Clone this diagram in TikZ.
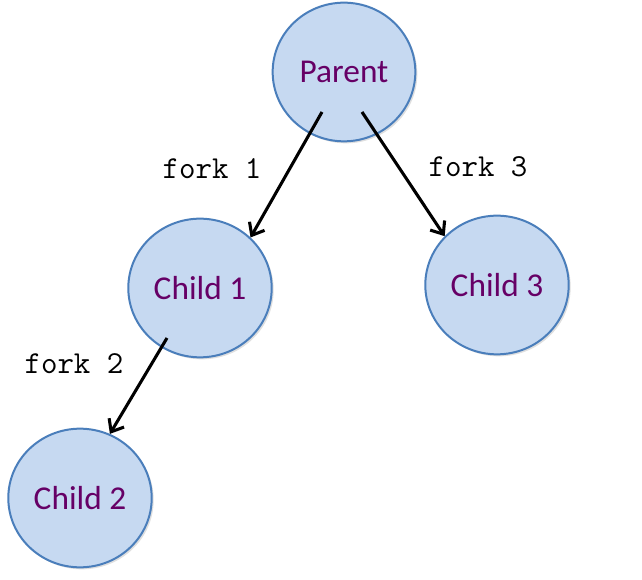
\documentclass[tikz,border=0pt]{standalone}
\usepackage{fontspec}
\setmainfont{Carlito}
\usetikzlibrary{shapes.geometric,arrows.meta,shadows}
\definecolor{procfill}{HTML}{C6D9F1}
\definecolor{procline}{HTML}{4A7EBB}
\definecolor{proctext}{HTML}{660066}
\tikzset{
  proc/.style={ellipse, draw=procline, fill=procfill, line width=1.5pt,
    minimum width=107pt, minimum height=104pt, text=proctext,
    font=\fontsize{25}{29}\selectfont,
    drop shadow={shadow xshift=1.5pt, shadow yshift=-1.5pt, opacity=0.25}},
  forkarrow/.style={line width=2.3pt, -{Straight Barb[length=8pt,width=13pt,line width=2.3pt]}},
  forklabel/.style={font=\ttfamily\fontsize{24}{27}\selectfont}
}
\begin{document}
\begin{tikzpicture}[x=0.75pt, y=-0.75pt]
  \useasboundingbox (0,0) rectangle (642,580);
  % processes
  \node[proc] (parent) at (344,72) {Parent};
  \node[proc] (child1) at (200,288) {Child 1};
  \node[proc] (child3) at (497,285) {Child 3};
  \node[proc] (child2) at (80,498) {Child 2};
  % forks
  \draw[forkarrow] ([shift={(-22,40)}]parent.center) -- (child1.45);
  \draw[forkarrow] ([shift={(18,40)}]parent.center) -- (child3.137);
  \draw[forkarrow] ([shift={(-33,50)}]child1.center) -- (child2.65);
  \node[forklabel] (fork1) at (212,169) {fork 1};
  \node[forklabel] (fork3) at (478,167) {fork 3};
  \node[forklabel] (fork2) at (74,364) {fork 2};
\end{tikzpicture}
\end{document}
